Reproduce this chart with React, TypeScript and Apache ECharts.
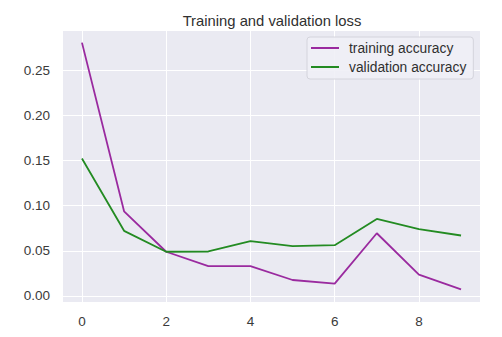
import React, { useEffect, useRef } from "react";
import * as echarts from "echarts";

const epochs = [0, 1, 2, 3, 4, 5, 6, 7, 8, 9];
const trainingValues = [0.2808, 0.0938, 0.049, 0.0331, 0.033, 0.0177, 0.0137, 0.0695, 0.0236, 0.0074];
const validationValues = [0.1523, 0.0722, 0.049, 0.0493, 0.0607, 0.0552, 0.0563, 0.0854, 0.074, 0.067];
const xTicks = [0, 2, 4, 6, 8];
const yTicks = [0, 0.05, 0.1, 0.15, 0.2, 0.25];
const seriesNames = ["training accuracy", "validation accuracy"];

const FONT = "Liberation Sans, Arial, sans-serif";

export default function App() {
  const ref = useRef<HTMLDivElement>(null);
  useEffect(() => {
    if (!ref.current) return;
    const chart = echarts.init(ref.current, undefined, { renderer: "svg" });
    const pair = (vals: number[]) => epochs.map((e, i) => [e, vals[i]]);
    chart.setOption({
      animation: false,
      backgroundColor: "#ffffff",
      title: {
        text: "Training and validation loss",
        left: 267,
        textAlign: "center",
        top: 8,
        textStyle: { fontFamily: FONT, fontSize: 14.8, fontWeight: "normal", color: "#303030" },
      },
      grid: { left: 63, right: 22, top: 31, bottom: 35, show: true, backgroundColor: "#EAEAF2", borderWidth: 0 },
      legend: {
        orient: "vertical",
        left: 307,
        top: 37,
        data: seriesNames,
        icon: "rect",
        itemWidth: 28,
        itemHeight: 2,
        itemGap: 5,
        padding: [4, 7, 5, 4],
        backgroundColor: "rgba(240,240,246,0.9)",
        borderColor: "#d4d4dc",
        borderWidth: 1,
        borderRadius: 3,
        textStyle: { fontFamily: FONT, fontSize: 13.8, color: "#303030", padding: [0, 0, 0, 5] },
      },
      xAxis: {
        type: "value",
        min: -0.45,
        max: 9.45,
        axisLine: { show: false },
        axisTick: { show: false, customValues: xTicks },
        axisLabel: { customValues: xTicks, margin: 12, fontFamily: FONT, fontSize: 13.5, color: "#3a3a3a" },
        splitLine: { show: true, lineStyle: { color: "#ffffff", width: 1 }, customValues: xTicks },
      },
      yAxis: {
        type: "value",
        min: -0.0067,
        max: 0.2937,
        axisLine: { show: false },
        axisTick: { show: false, customValues: yTicks },
        axisLabel: {
          customValues: yTicks,
          margin: 13,
          fontFamily: FONT,
          fontSize: 13.5,
          color: "#3a3a3a",
          formatter: (v: number) => v.toFixed(2),
        },
        splitLine: { show: true, lineStyle: { color: "#ffffff", width: 1 }, customValues: yTicks },
      },
      series: [
        {
          name: seriesNames[0],
          type: "line",
          data: pair(trainingValues),
          showSymbol: false,
          lineStyle: { color: "#9a2a9f", width: 1.8 },
          itemStyle: { color: "#9a2a9f" },
        },
        {
          name: seriesNames[1],
          type: "line",
          data: pair(validationValues),
          showSymbol: false,
          lineStyle: { color: "#238b22", width: 1.8 },
          itemStyle: { color: "#238b22" },
        },
      ],
    });
    return () => chart.dispose();
  }, []);
  return <div ref={ref} style={{ width: 502, height: 337, position: "absolute", left: 0, top: 0 }} />;
}
